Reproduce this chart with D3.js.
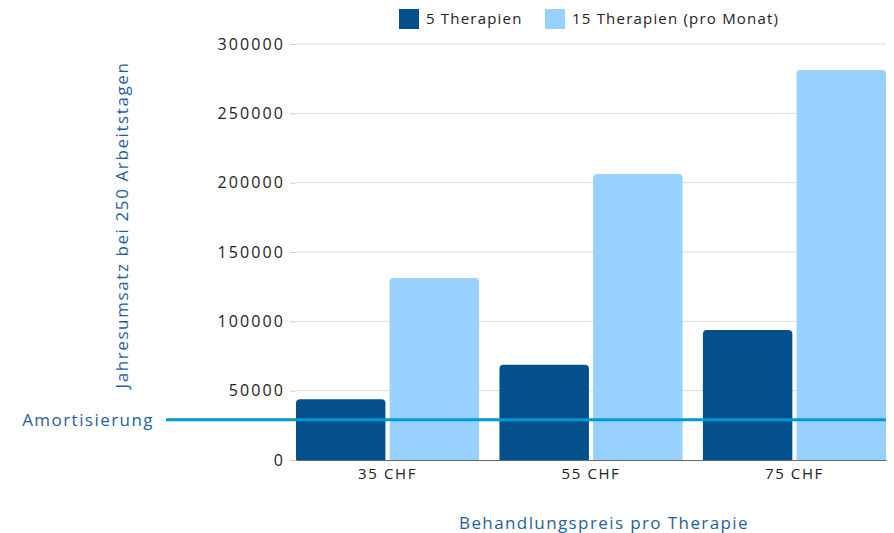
<!DOCTYPE html>
<html>
<head>
<meta charset="utf-8">
<script src="https://cdn.jsdelivr.net/npm/d3@7"></script>
<style>
  body { margin: 0; background: #fff; }
  text { font-family: "Open Sans", "DejaVu Sans", sans-serif; }
</style>
</head>
<body>
<script>
// Chart data
var categories = ["35 CHF", "55 CHF", "75 CHF"];
var seriesNames = ["5 Therapien", "15 Therapien (pro Monat)"];
var fiveTherapies = [43750, 68750, 93750];
var fifteenTherapies = [131250, 206250, 281250];
var yTicks = [0, 50000, 100000, 150000, 200000, 250000, 300000];
var breakEven = 29000;
var colors = ["#03508c", "#98d1fe"];

var svgWidth = 894;
var svgHeight = 533;
var margin = { top: 44, right: 8, bottom: 73, left: 296 };
var width = svgWidth - margin.left - margin.right;
var height = svgHeight - margin.top - margin.bottom;

var svg = d3.select("body")
            .append("svg")
            .attr("width", svgWidth)
            .attr("height", svgHeight);

var chartGroup = svg.append("g")
                    .attr("transform", `translate(${margin.left}, ${margin.top})`);

// Scales
var x0 = d3.scaleBand().domain(categories).range([0, width]).paddingInner(0.1).paddingOuter(0);
var x1 = d3.scaleBand().domain(seriesNames).range([0, x0.bandwidth()]).paddingInner(0.045);
var y = d3.scaleLinear().domain([0, 300000]).range([height, 0]);

// Gridlines + y axis
var leftAxis = d3.axisLeft(y).tickValues(yTicks).tickSize(6).tickPadding(5).tickFormat(d3.format("d"));
var yAxisG = chartGroup.append("g").call(leftAxis);
yAxisG.select(".domain").remove();
yAxisG.selectAll(".tick line").attr("stroke", "#cfcfcf");
yAxisG.selectAll(".tick text")
  .attr("font-size", 16)
  .attr("letter-spacing", "2.1px")
  .attr("fill", "#222");

chartGroup.append("g")
  .selectAll("line")
  .data(yTicks.filter(function(d) { return d > 0; }))
  .join("line")
  .attr("x1", 0).attr("x2", width)
  .attr("y1", function(d) { return y(d); })
  .attr("y2", function(d) { return y(d); })
  .attr("stroke", "#dcdcdc");

// x axis
var bottomAxis = d3.axisBottom(x0).tickSize(0).tickPadding(8);
var xAxisG = chartGroup.append("g").attr("transform", `translate(0, ${height})`).call(bottomAxis);
xAxisG.select(".domain").attr("stroke", "#666");
xAxisG.selectAll(".tick text")
  .attr("font-size", 15)
  .attr("letter-spacing", "1.6px")
  .attr("fill", "#222");

// Bars with rounded tops
function roundTop(xp, yp, w, h, r) {
  return "M" + xp + "," + (yp + h) +
    "V" + (yp + r) +
    "Q" + xp + "," + yp + " " + (xp + r) + "," + yp +
    "H" + (xp + w - r) +
    "Q" + (xp + w) + "," + yp + " " + (xp + w) + "," + (yp + r) +
    "V" + (yp + h) + "Z";
}

var rows = categories.map(function(c, i) {
  return { cat: c, values: [fiveTherapies[i], fifteenTherapies[i]] };
});

var groups = chartGroup.append("g").selectAll("g")
  .data(rows)
  .join("g")
  .attr("transform", function(d) { return `translate(${x0(d.cat)},0)`; });

groups.selectAll("path")
  .data(function(d) { return d.values.map(function(v, j) { return { name: seriesNames[j], value: v, j: j }; }); })
  .join("path")
  .attr("fill", function(d) { return colors[d.j]; })
  .attr("d", function(d) {
    return roundTop(x1(d.name), y(d.value), x1.bandwidth(), height - y(d.value), 4);
  });

// Break-even line
svg.append("line")
  .attr("x1", 166).attr("x2", margin.left + width)
  .attr("y1", margin.top + y(breakEven))
  .attr("y2", margin.top + y(breakEven))
  .attr("stroke", "#0099d8")
  .attr("stroke-width", 3);

svg.append("text")
  .attr("x", 154)
  .attr("y", margin.top + y(breakEven))
  .attr("dy", "0.35em")
  .attr("text-anchor", "end")
  .attr("font-size", 17)
  .attr("letter-spacing", "1.45px")
  .attr("fill", "#1f5f9e")
  .text("Amortisierung");

// Axis titles
svg.append("text")
  .attr("transform", "translate(128, 225) rotate(-90)")
  .attr("text-anchor", "middle")
  .attr("font-size", 17)
  .attr("letter-spacing", "1.6px")
  .attr("fill", "#1f5f9e")
  .text("Jahresumsatz bei 250 Arbeitstagen");

svg.append("text")
  .attr("x", 604)
  .attr("y", 529)
  .attr("text-anchor", "middle")
  .attr("font-size", 17)
  .attr("letter-spacing", "1.4px")
  .attr("fill", "#1f5f9e")
  .text("Behandlungspreis pro Therapie");

// Legend
var legendX = [399, 545];
var legend = svg.append("g").selectAll("g")
  .data(seriesNames)
  .join("g")
  .attr("transform", function(d, i) { return `translate(${legendX[i]}, 9)`; });

legend.append("rect")
  .attr("width", 20).attr("height", 20)
  .attr("fill", function(d, i) { return colors[i]; });

legend.append("text")
  .attr("x", 27).attr("y", 10)
  .attr("dy", "0.35em")
  .attr("font-size", 15)
  .attr("letter-spacing", "1.2px")
  .attr("fill", "#222")
  .text(function(d) { return d; });
</script>
</body>
</html>
